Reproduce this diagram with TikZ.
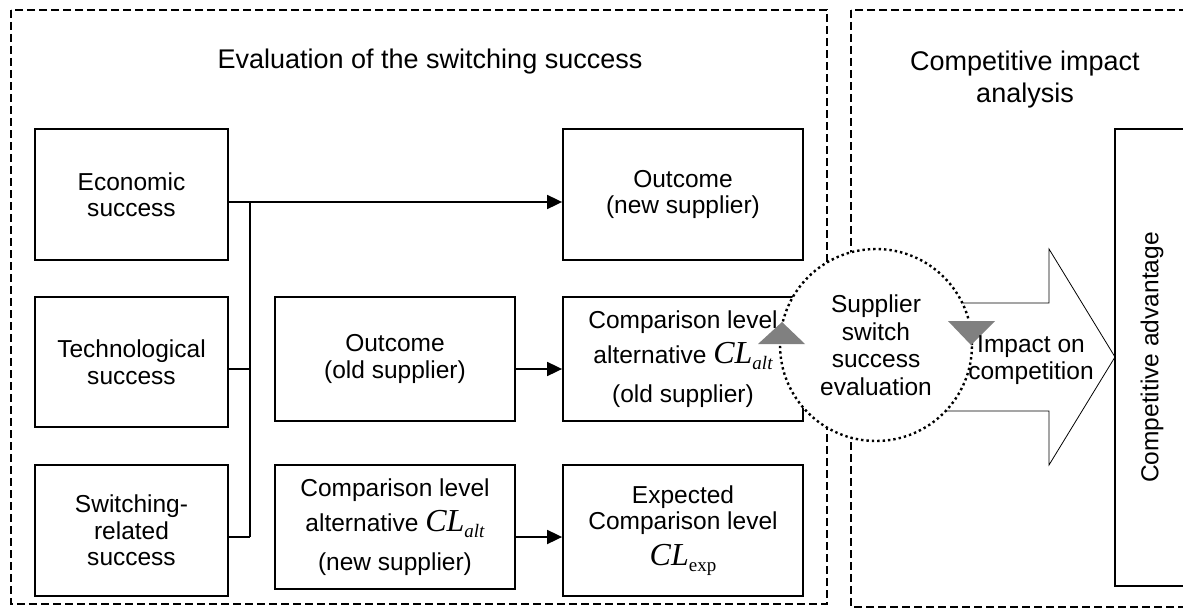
\documentclass[tikz,border=0pt]{standalone}
\usepackage{fontspec}
\setmainfont{Liberation Sans}
\newfontfamily\timesfont{Liberation Serif}
\usetikzlibrary{arrows.meta}
\newcommand{\CLof}[1]{{\timesfont\itshape\fontsize{32}{32}\selectfont CL}\raisebox{-6pt}{\timesfont\fontsize{19}{19}\selectfont #1}}

\begin{document}
\begin{tikzpicture}[x=1pt,y=-1pt,
    box/.style={draw,line width=1.8pt,align=center,inner sep=0pt,font=\fontsize{24.5}{26.5}\selectfont},
    plain/.style={align=center,inner sep=0pt,font=\fontsize{24.5}{26.5}\selectfont},
    heading/.style={align=center,inner sep=0pt,font=\fontsize{27}{32}\selectfont},
    region/.style={line width=1.3pt,dash pattern=on 8pt off 4pt},
    link/.style={line width=1.8pt},
    arr/.style={link,-{Triangle[length=15pt,width=14pt]}},
    marker/.style={fill=black!50}]
\useasboundingbox (0,0) rectangle (1183,610);
\clip (0,0) rectangle (1183,610);

% the two areas
\draw[region] (11,10) rectangle (827,604);
\draw[region] (851,10) rectangle (1190,607);
\node[heading,anchor=base] (evaltitle) at (430,69) {Evaluation of the switching success};
\node[heading] (imptitle) at (1025,80) {Competitive impact\\analysis};

% success dimensions
\node[box,minimum width=193pt,minimum height=131pt] (eco) at (131.5,194.5) {Economic\\success};
\node[box,minimum width=193pt,minimum height=130pt] (tech) at (131.5,362) {Technological\\success};
\node[box,minimum width=193pt,minimum height=131pt] (swit) at (131.5,530.5) {Switching-\\related\\success};

% outcomes and comparison levels
\node[box,minimum width=240pt,minimum height=124pt] (outold) at (395,359) {Outcome\\(old supplier)};
\node[box,minimum width=240pt,minimum height=124pt] (cmpnew) at (395,527) {Comparison level\\[9pt]alternative \CLof{\itshape alt}\\[12pt](new supplier)};
\node[box,minimum width=240pt,minimum height=131pt] (outnew) at (683,194.5) {Outcome\\(new supplier)};
\node[box,minimum width=240pt,minimum height=124pt] (cmpold) at (683,359) {Comparison level\\[9pt]alternative \CLof{\itshape alt}\\[12pt](old supplier)};
\node[box,minimum width=240pt,minimum height=131pt] (expct) at (683,530.5) {Expected\\Comparison level\\[9pt]\CLof{exp}};

% connectors
\coordinate (bt) at (250,202);
\coordinate (bb) at (250,537);
\draw[arr] ([yshift=-7.5pt]eco.east) -- ([yshift=-7.5pt]outnew.west);
\draw[link] (bt) -- (bb);
\draw[link] ([yshift=-7pt]tech.east) -- ([yshift=-7pt]tech.east -| bt);
\draw[link] (swit.east |- bb) -- (bb);
\draw[arr] ([yshift=-10pt]outold.east) -- ([yshift=-10pt]cmpold.west);
\draw[arr] ([yshift=-10pt]cmpnew.east) -- ([yshift=-10pt]cmpnew.east -| expct.west);

% impact arrow and advantage
\draw[line width=0.8pt,fill=white] (876,303) -- (1049,303) -- (1049,249) -- (1115,357) -- (1049,465) -- (1049,411) -- (876,411);
\node[box,rotate=90,minimum width=457pt,minimum height=74pt] (adv) at (1152,357.5) {Competitive advantage};

% evaluation circle
\node[plain,circle,draw,fill=white,minimum size=192pt,line width=2.4pt,dash pattern=on 2.4pt off 3pt,font=\fontsize{24.5}{27.5}\selectfont] (judge) at (876,345) {Supplier\\switch\\success\\evaluation};
\fill[marker] (758,344) -- (782,322) -- (805,344) -- cycle;
\fill[marker] (948,321) -- (995,321) -- (971,345) -- cycle;
\node[plain] (impact) at (1031,360) {Impact on\\competition};

\end{tikzpicture}
\end{document}
